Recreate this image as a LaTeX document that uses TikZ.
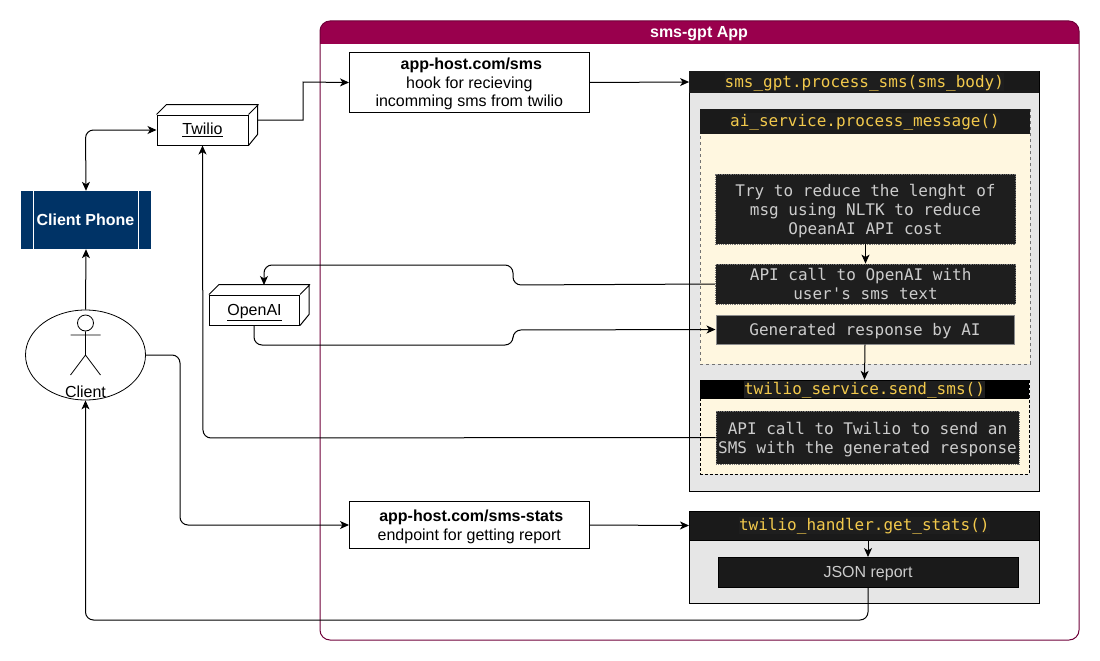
\documentclass[tikz,border=0pt]{standalone}
\usepackage{fontspec}
\setmainfont{Liberation Sans}
\setmonofont{DejaVu Sans Mono}
\usepackage{xcolor}
\usetikzlibrary{calc}
\usetikzlibrary{arrows.meta,shapes.geometric}

\definecolor{appred}{HTML}{99004D}
\definecolor{appline}{HTML}{6F0039}
\definecolor{phoneblue}{HTML}{003366}
\definecolor{panelgray}{HTML}{E6E6E6}
\definecolor{creamfill}{HTML}{FFF7E0}
\definecolor{codedark}{HTML}{1A1A1A}
\definecolor{codebg}{HTML}{1E1E1E}
\definecolor{codeyellow}{HTML}{F2C94C}
\definecolor{codegray}{HTML}{CCCCCC}

\newcommand{\hlcode}[1]{{\setlength{\fboxsep}{0pt}\colorbox{codebg}{\rule[-3pt]{0pt}{17pt}#1}}}

\tikzset{
  flow/.style={draw=black,line width=1pt,rounded corners=8pt,-{Stealth[length=9pt,width=8pt,inset=2.5pt]}},
  plainbox/.style={draw=black,line width=1pt,fill=white,inner sep=0pt,align=center,font=\fontsize{16}{18.6}\selectfont},
  cubefront/.style={plainbox,minimum height=30pt},
  panel/.style={draw=black,line width=1pt,fill=panelgray,inner sep=0pt},
  header/.style={fill=codedark,inner sep=0pt,text=codeyellow,font=\ttfamily\fontsize{16}{19}\selectfont},
  codebox/.style={fill=codebg,inner sep=0pt,text=codegray,align=center,text depth=0pt,font=\ttfamily\fontsize{16}{19}\selectfont},
  dottededge/.style={draw=black!55,densely dotted,line width=0.8pt},
}

\begin{document}
\begin{tikzpicture}[x=1pt,y=-1pt]
\useasboundingbox (0,0) rectangle (1100,661);

% App container
\fill[appred,rounded corners=10pt] (320,21) rectangle (1079,60);
\fill[white] (320,44) rectangle (1079,62);
\draw[appline,line width=1pt,rounded corners=10pt] (320,21) rectangle (1079,640);
\node[font=\bfseries\fontsize{16}{19}\selectfont,text=white] (apptitle) at (699,33.5) {sms-gpt App};

% Client side
\node[draw=none,fill=phoneblue,text=white,minimum width=130pt,minimum height=58pt,inner sep=0pt,font=\bfseries\fontsize{16}{19}\selectfont] (phone) at (86,220) {\raisebox{-1pt}{\hspace*{-1pt}Client Phone}};
\draw[white] (33.5,191) -- (33.5,249) (138.5,191) -- (138.5,249);
\node[draw=black,ellipse,line width=0.8pt,minimum width=120pt,minimum height=90pt,inner sep=0pt] (client) at (85.5,355) {};
\node[draw=black,circle,line width=0.8pt,minimum size=16pt,inner sep=0pt] (head) at (85.5,323) {};
\draw[line width=0.8pt] (head.south) -- (85.5,355) (70.5,335) -- (100.5,335) (70.5,375) -- (85.5,355) -- (100.5,375);
\node[font=\fontsize{16}{19}\selectfont] (clientlabel) at (85.5,392) {Client};

% Services
\node[cubefront,minimum width=91pt] (twilio) at (202.5,130) {\underline{Twilio}};
\draw[line width=1pt] (twilio.north west) -- ++(10,-10) -- ++(91,0) -- ++(0,30) -- (twilio.south east)
  (twilio.north east) -- ++(10,-10);
\coordinate (twilioside) at (258,120);
\node[cubefront,minimum width=90pt,text depth=0pt] (openai) at (254.5,310) {\underline{OpenAI}};
\draw[line width=1pt] (openai.north west) -- ++(10,-10) -- ++(90,0) -- ++(0,30) -- (openai.south east)
  (openai.north east) -- ++(10,-10);
\coordinate (openaitop) at (264,285);
\coordinate (openaibottom) at (254,325);

% Hooks
\node[plainbox,minimum width=239.6pt,minimum height=59pt,text depth=0pt] (smshook) at (469.3,82.5) {\hspace*{4pt}\textbf{app-host.com/sms}\\hook for recieving\\incomming sms from twilio};
\node[plainbox,minimum width=239.6pt,minimum height=47pt,text depth=0pt] (statshook) at (469.3,525) {\hspace*{4pt}\textbf{app-host.com/sms-stats}\\endpoint for getting report};

% process_sms panel
\node[panel,minimum width=349.6pt,minimum height=419pt] (smspanel) at (864.3,281.5) {};
\node[header,minimum width=350pt,minimum height=21pt] (smshead) at (864.3,82) {\hlcode{sms\_gpt.process\_sms(sms\_body)}};

% ai_service panel
\node[draw=black!55,dashed,line width=0.8pt,fill=creamfill,inner sep=0pt,minimum width=330pt,minimum height=255pt] (aipanel) at (865,236.5) {};
\node[header,minimum width=330pt,minimum height=25pt] (aihead) at (865,121.5) {\hlcode{ai\_service.process\_message()}};
\node[codebox,dottededge,minimum width=300pt,minimum height=70pt] (trybox) at (865.5,209) {Try to reduce the lenght of\\msg using NLTK to reduce\\OpeanAI API cost};
\node[codebox,dottededge,text depth=-2pt,minimum width=300pt,minimum height=40pt] (callai) at (865.5,284) {API call to OpenAI with\hspace*{9.6pt}\\user's sms text};
\node[codebox,draw=black!45,line width=1pt,minimum width=298pt,minimum height=29pt] (genbox) at (865,329.5) {Generated response by AI};

% twilio_service panel
\node[draw=black,densely dashed,line width=0.8pt,fill=creamfill,inner sep=0pt,minimum width=329pt,minimum height=94pt] (twpanel) at (864.5,427) {};
\node[header,fill=black,minimum width=329pt,minimum height=19pt] (twhead) at (864.5,389.5) {\hlcode{twilio\_service.send\_sms()}};
\node[codebox,dottededge,text depth=-4pt,minimum width=303pt,minimum height=53pt] (calltw) at (867.5,437.5) {API call to Twilio to send an\\SMS with the generated response};

% get_stats panel
\node[panel,minimum width=349.6pt,minimum height=92pt] (statspanel) at (864.3,557) {};
\node[header,draw=black,line width=1pt,minimum width=349.6pt,minimum height=29pt] (statshead) at (864.3,525.5) {\hlcode{twilio\_handler.get\_stats()}};
\node[draw=black,line width=1pt,fill=codedark,inner sep=0pt,text=codegray,text depth=2pt,font=\fontsize{16}{19}\selectfont,minimum width=300pt,minimum height=30pt] (report) at (868,572.5) {JSON report};

% Connectors
\draw[flow,{Stealth[length=9pt,width=8pt,inset=2.5pt]}-{Stealth[length=9pt,width=8pt,inset=2.5pt]}] (phone.north) -- (85.5,130) -- (twilio.west);
\draw[flow] (client.north) -- (phone.south);
\draw[flow,rounded corners=0pt] (twilioside) -- (303,120) -- (303,82) -- (smshook.west);
\draw[flow] (smshook.east) -- (smshead.west);
\draw[flow] (calltw.west) -- (203,438) -- (twilio.south);
\draw[flow] (callai.west) -- (513,285) -- (513,265) -- (264,265) -- (openaitop);
\draw[flow] (openaibottom) -- (254,345) -- (513,345) -- (513,330) -- (genbox.west);
\draw[flow] (trybox.south) -- (callai.north);
\draw[flow] (genbox.south) -- (twhead.north);
\draw[flow] (client.east) -- (180,355) -- (180,525) -- (statshook.west);
\draw[flow] (statshook.east) -- (statshead.west);
\draw[flow] (statshead.south -| report.north) -- (report.north);
\draw[flow] (report.south) -- (868,620) -- (85.5,620) -- (client.south);
\end{tikzpicture}
\end{document}
